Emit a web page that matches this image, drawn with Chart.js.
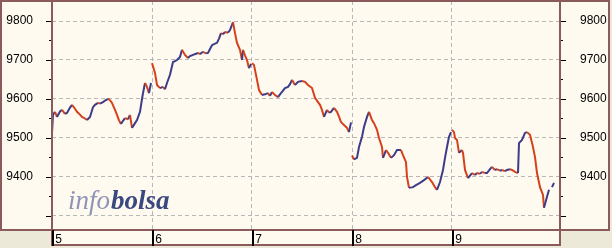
<!DOCTYPE html>
<html>
<head>
<meta charset="utf-8">
<script src="https://cdn.jsdelivr.net/npm/chart.js@4"></script>
<style>
  html, body { margin: 0; padding: 0; background: #ece9d8; }
  #wrap { width: 612px; height: 248px; }
</style>
</head>
<body>
<div id="wrap"><canvas id="chart" width="612" height="248"></canvas></div>
<script>
// Session labels (one per trading day)
const dayLabels = ["5", "6", "7", "8", "9"];

// Levels that get a printed label on the price axes
const labelledLevels = [9400, 9500, 9600, 9700, 9800];

// Intraday position in days (0 = open of day 5) and index level
const times = [
  0.00, 0.01, 0.03, 0.05, 0.08, 0.10, 0.13, 0.15, 0.18, 0.20, 0.23, 0.25, 0.28, 0.30, 0.33, 0.35,
  0.38, 0.41, 0.43, 0.46, 0.48, 0.51, 0.53, 0.56, 0.58, 0.60, 0.63, 0.65, 0.67, 0.69, 0.71, 0.73,
  0.76, 0.78, 0.80, 0.83, 0.85, 0.88, 0.90, 0.91, 0.93, 0.95, 0.97, 0.99,
  1.00, 1.03, 1.05, 1.08, 1.11, 1.13, 1.15, 1.18, 1.21, 1.23, 1.25, 1.28, 1.30, 1.33, 1.36, 1.38,
  1.41, 1.44, 1.46, 1.48, 1.51, 1.54, 1.56, 1.58, 1.60, 1.63, 1.65, 1.67, 1.69, 1.71, 1.73, 1.76,
  1.78, 1.80, 1.81, 1.83, 1.85, 1.88, 1.90, 1.91, 1.93, 1.95, 1.97, 1.99,
  2.00, 2.02, 2.05, 2.07, 2.10, 2.13, 2.16, 2.18, 2.20, 2.23, 2.26, 2.28, 2.30, 2.33, 2.36, 2.38,
  2.40, 2.43, 2.46, 2.50, 2.53, 2.56, 2.60, 2.63, 2.66, 2.68, 2.70, 2.72, 2.75, 2.77, 2.79, 2.82,
  2.85, 2.87, 2.89, 2.92, 2.95, 2.97, 2.99,
  3.00, 3.02, 3.05, 3.07, 3.10, 3.12, 3.15, 3.17, 3.20, 3.22, 3.25, 3.27, 3.30, 3.31, 3.34, 3.36,
  3.39, 3.42, 3.45, 3.49, 3.51, 3.54, 3.55, 3.57, 3.61, 3.64, 3.68, 3.72, 3.76, 3.80, 3.83, 3.85,
  3.88, 3.91, 3.93, 3.95, 3.97, 3.99,
  4.00, 4.02, 4.03, 4.05, 4.07, 4.10, 4.11, 4.13, 4.16, 4.20, 4.23, 4.25, 4.28, 4.30, 4.33, 4.35,
  4.38, 4.40, 4.43, 4.45, 4.48, 4.50, 4.53, 4.55, 4.58, 4.60, 4.63, 4.66, 4.67, 4.70, 4.73, 4.75,
  4.78, 4.81, 4.83, 4.85, 4.88, 4.91, 4.92, 4.95, 4.97, 5.00, 5.02
];
const prices = [
  9512, 9560, 9567, 9554, 9568, 9572, 9562, 9564, 9578, 9585, 9575, 9567, 9560, 9554, 9550, 9546,
  9554, 9579, 9585, 9590, 9588, 9592, 9596, 9600, 9597, 9590, 9572, 9559, 9545, 9536, 9544, 9551,
  9548, 9559, 9526, 9538, 9546, 9567, 9600, 9615, 9641, 9631, 9615, 9641,
  9692, 9667, 9636, 9628, 9631, 9625, 9641, 9662, 9695, 9697, 9700, 9708, 9726, 9713, 9705, 9710,
  9713, 9716, 9718, 9715, 9721, 9717, 9718, 9728, 9738, 9742, 9744, 9755, 9769, 9766, 9772, 9770,
  9777, 9790, 9797, 9769, 9744, 9726, 9700, 9726, 9712, 9700, 9679, 9690,
  9692, 9687, 9649, 9623, 9610, 9612, 9615, 9608, 9618, 9610, 9605, 9612, 9618, 9628, 9631, 9638,
  9649, 9636, 9644, 9646, 9644, 9636, 9628, 9603, 9592, 9585, 9572, 9554, 9572, 9565, 9567, 9577,
  9567, 9555, 9541, 9533, 9526, 9515, 9540,
  9455, 9445, 9449, 9477, 9503, 9528, 9554, 9567, 9546, 9538, 9521, 9500, 9477, 9449, 9469, 9462,
  9449, 9456, 9469, 9469, 9456, 9438, 9400, 9372, 9374, 9379, 9385, 9392, 9400, 9387, 9374, 9367,
  9387, 9418, 9449, 9477, 9503, 9515,
  9521, 9515, 9500, 9495, 9462, 9469, 9462, 9418, 9397, 9410, 9405, 9410, 9408, 9413, 9410, 9410,
  9420, 9426, 9418, 9420, 9416, 9418, 9415, 9418, 9420, 9418, 9413, 9410, 9487, 9495, 9513, 9515,
  9508, 9477, 9451, 9410, 9374, 9354, 9321, 9349, 9367, 9374, 9385
];

const Y_MIN = 9264;
const Y_MAX = 9851.3;
const X_MAX = 5.08;

const BROWN = "#8b5b5b";
const CREAM = "#fffaf0";
const GREY = "#ece9d8";
const UP = "#3c3c88";
const DOWN = "#d4421c";

// build points, break the line between sessions
const points = [];
times.forEach((t, i) => {
  if (i > 0 && Math.floor(t) !== Math.floor(times[i - 1])) {
    points.push({ x: (t + times[i - 1]) / 2, y: null });
  }
  points.push({ x: t, y: prices[i] });
});

// Frame, panels, tick marks and logo
const framePlugin = {
  id: "frame",
  beforeDraw(chart) {
    const { ctx, chartArea: a } = chart;
    ctx.save();
    ctx.fillStyle = GREY;
    ctx.fillRect(0, 0, chart.width, chart.height);
    ctx.fillStyle = CREAM;
    ctx.fillRect(0, 0, 610, a.bottom);
    ctx.fillRect(a.left, a.bottom, a.right - a.left, 16);
    ctx.restore();
  },
  afterDraw(chart) {
    const { ctx, chartArea: a, scales } = chart;
    ctx.save();

    // y tick marks, both sides
    ctx.strokeStyle = "#000";
    ctx.lineWidth = 1;
    scales.y.ticks.forEach(t => {
      const y = Math.round(scales.y.getPixelForValue(t.value)) + 0.5;
      const major = t.value % 100 === 0;
      ctx.beginPath();
      ctx.moveTo(a.left - (major ? 6 : 3), y);
      ctx.lineTo(a.left, y);
      ctx.moveTo(a.right, y);
      ctx.lineTo(a.right + (major ? 6 : 3), y);
      ctx.stroke();
    });

    // panel borders
    ctx.strokeStyle = BROWN;
    ctx.lineWidth = 2;
    ctx.strokeRect(1, 1, 608, a.bottom - 1);
    ctx.beginPath();
    ctx.moveTo(a.left, 0);
    ctx.lineTo(a.left, a.bottom + 16);
    ctx.moveTo(a.right, 0);
    ctx.lineTo(a.right, a.bottom + 16);
    ctx.moveTo(a.left, a.bottom + 15);
    ctx.lineTo(a.right, a.bottom + 15);
    ctx.stroke();

    // session separators on the time axis
    ctx.strokeStyle = "#000";
    ctx.lineWidth = 2;
    scales.x.ticks.forEach(t => {
      const x = Math.round(scales.x.getPixelForValue(t.value)) + 1;
      ctx.beginPath();
      ctx.moveTo(x, a.bottom);
      ctx.lineTo(x, a.bottom + 16);
      ctx.stroke();
    });

    // logo
    ctx.textBaseline = "alphabetic";
    ctx.font = "italic 27px 'Liberation Serif'";
    ctx.fillStyle = "#8e94b6";
    ctx.fillText("info", 68, 209);
    const w = ctx.measureText("info").width;
    ctx.font = "italic bold 27px 'Liberation Serif'";
    ctx.fillStyle = "#3a4880";
    ctx.fillText("bolsa", 68 + w + 1, 209);
    ctx.restore();
  }
};

const tickFont = { family: "'Liberation Sans', Arial, sans-serif", size: 12 };

function yAxis(position, padding) {
  return {
    type: "linear",
    position,
    min: Y_MIN,
    max: Y_MAX,
    afterBuildTicks: s => { s.ticks = s.ticks.filter(t => t.value % 50 === 0); },
    afterFit: s => { s.width = 52; s.paddingTop = 0; s.paddingBottom = 0; },
    ticks: {
      stepSize: 50,
      padding,
      color: "#000",
      font: tickFont,
      callback: v => (labelledLevels.includes(v) ? String(v) : "")
    },
    grid: {
      drawTicks: false,
      drawOnChartArea: position === "left",
      color: c => (c.tick && c.tick.value % 100 === 0 ? "#b8b8b8" : "rgba(0,0,0,0)"),
      lineWidth: 1
    },
    border: { display: false, dash: [4, 3] }
  };
}

new Chart(document.getElementById("chart"), {
  type: "line",
  data: {
    datasets: [{
      data: points,
      borderWidth: 2,
      pointRadius: 0,
      tension: 0,
      spanGaps: false,
      borderColor: DOWN,
      segment: {
        borderColor: c => (c.p1.parsed.y >= c.p0.parsed.y ? UP : DOWN)
      }
    }]
  },
  options: {
    responsive: false,
    animation: false,
    layout: { padding: { top: 1 } },
    plugins: { legend: { display: false }, tooltip: { enabled: false } },
    scales: {
      x: {
        type: "linear",
        min: 0,
        max: X_MAX,
        afterBuildTicks: s => { s.ticks = s.ticks.filter(t => Number.isInteger(t.value) && t.value < dayLabels.length); },
        afterFit: s => { s.height = 18; s.paddingLeft = 0; s.paddingRight = 0; },
        ticks: {
          stepSize: 1,
          align: "start",
          padding: 2,
          maxRotation: 0,
          autoSkip: false,
          color: "#000",
          font: tickFont,
          callback: v => " " + dayLabels[v]
        },
        grid: {
          drawTicks: false,
          color: c => (c.tick && c.tick.value > 0 ? "#b8b8b8" : "rgba(0,0,0,0)"),
          lineWidth: 1
        },
        border: { display: false, dash: [4, 3] }
      },
      y: yAxis("left", 19),
      y2: yAxis("right", 20)
    }
  },
  plugins: [framePlugin]
});
</script>
</body>
</html>
